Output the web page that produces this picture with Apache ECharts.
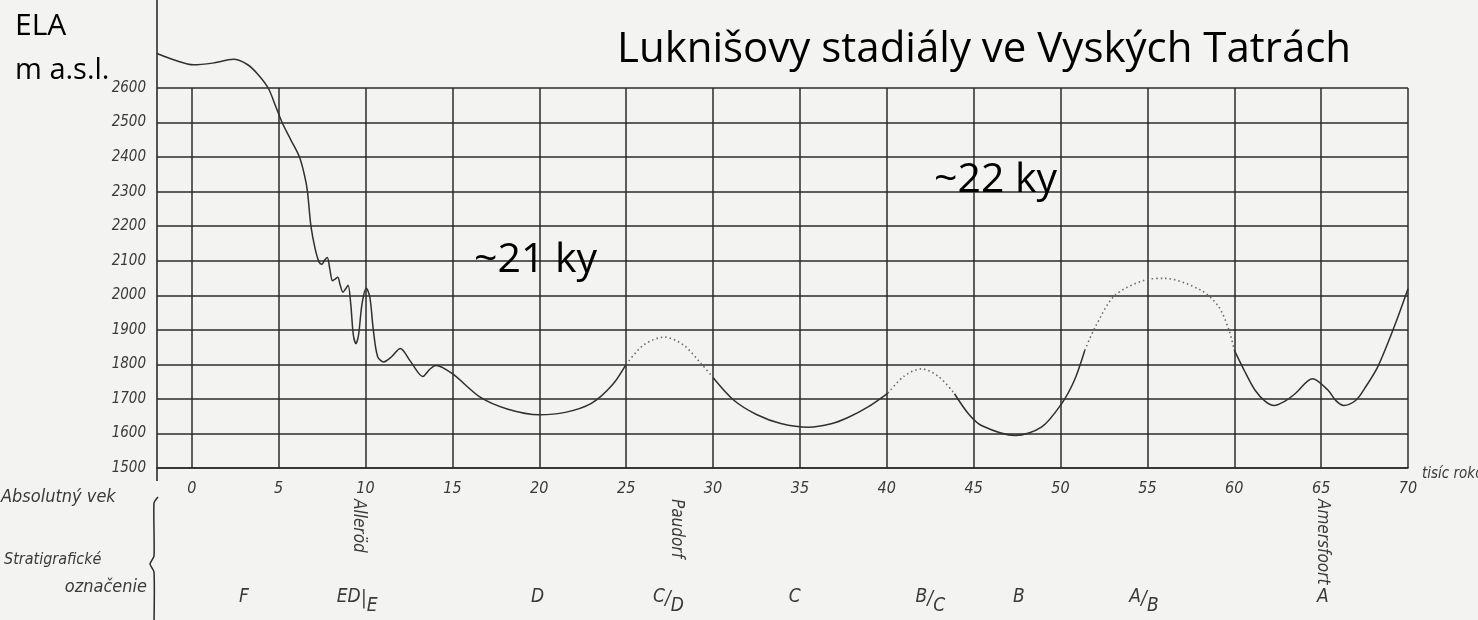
<!DOCTYPE html>
<html>
<head>
<meta charset="utf-8">
<script src="https://cdn.jsdelivr.net/npm/echarts@6/dist/echarts.min.js"></script>
<style>
  html, body { margin: 0; padding: 0; background: #f3f3f1; }
  #chart { width: 1478px; height: 620px; }
</style>
</head>
<body>
<div id="chart"></div>
<script>
// Absolute age axis (thousand years) and ELA axis (m a.s.l.)
const ageTicks = [0, 5, 10, 15, 20, 25, 30, 35, 40, 45, 50, 55, 60, 65, 70];
const elaTicks = [1500, 1600, 1700, 1800, 1900, 2000, 2100, 2200, 2300, 2400, 2500, 2600];

// ELA curve: [age, ELA]; solid parts are documented stadials, dotted parts are inferred
const curveF_D = [
  [-2, 2700], [-1, 2681], [0.1, 2667], [1.2, 2672], [2.4, 2683], [3.2, 2668], [3.8, 2640],
  [4.4, 2600], [4.8, 2551], [5.2, 2500], [5.7, 2450], [6.2, 2400], [6.5, 2345], [6.66, 2300],
  [6.86, 2200], [7.1, 2135], [7.33, 2096], [7.5, 2090],
  [7.65, 2102], [7.8, 2109], [7.95, 2075], [8.1, 2042], [8.25, 2047], [8.4, 2052], [8.55, 2028],
  [8.7, 2009], [8.85, 2018], [9.0, 2029], [9.15, 1975], [9.3, 1885], [9.45, 1860], [9.6, 1885],
  [9.8, 1975], [10.05, 2020], [10.25, 1995], [10.45, 1900], [10.7, 1822], [11.05, 1807],
  [11.5, 1822], [12.0, 1846], [12.6, 1808], [13.3, 1765], [13.7, 1786], [14.05, 1797],
  [15.0, 1773], [16.6, 1705], [18.2, 1670], [20.0, 1654], [21.5, 1661], [23.0, 1687],
  [24.2, 1740], [25.0, 1800]
];
const curveC_D = [[25.0, 1800], [26.0, 1856], [27.2, 1879], [28.3, 1856], [29.3, 1803], [30.0, 1762]];
const curveC = [
  [30.0, 1762], [31.2, 1696], [32.5, 1655], [33.9, 1629], [35.5, 1618], [36.8, 1628],
  [37.8, 1647], [38.9, 1676], [40.07, 1717]
];
const curveB_C = [[40.07, 1717], [41.0, 1766], [42.0, 1787], [43.0, 1764], [43.9, 1715]];
const curveB = [
  [43.9, 1715], [44.7, 1657], [45.45, 1623], [47.4, 1594], [48.9, 1618], [50.06, 1686],
  [50.8, 1754], [51.4, 1841]
];
const curveA_B = [
  [51.4, 1841], [52.0, 1908], [53.1, 1998], [54.85, 2044], [56.0, 2049], [58.1, 2014],
  [59.1, 1967], [59.7, 1899], [60.0, 1841]
];
const curveA = [
  [60.0, 1841], [60.6, 1780], [61.2, 1725], [61.8, 1692], [62.3, 1681], [62.9, 1693],
  [63.5, 1715], [64.5, 1758], [65.4, 1725], [65.85, 1695], [66.3, 1681], [67.0, 1696],
  [67.5, 1730], [68.25, 1792], [69.2, 1908], [70.0, 2019]
];

// Stratigraphic designations along the age axis
const stratAge = [3.0, 9.9, 19.9, 27.4, 34.7, 42.5, 47.6, 54.8, 65.1];
const stratTop = ['F', 'ED', 'D', 'C', 'C', 'B', 'B', 'A', 'A'];
const stratSep = ['', '|', '', '/', '', '/', '', '/', ''];
const stratSub = ['', 'E', '', 'D', '', 'C', '', 'B', ''];

// Named interstadials
const eventAge = [9.6, 27.9, 65.1];
const eventName = ['Alleröd', 'Paudorf', 'Amersfoort'];

const HAND = "'DejaVu Sans Condensed', 'DejaVu Sans', sans-serif";
const SANS = "'Open Sans', Lato, sans-serif";
const INK = '#2b2b2b';

const chart = echarts.init(document.getElementById('chart'), null, { renderer: 'canvas' });

function segment(data, dotted) {
  return {
    type: 'line',
    data: data,
    smooth: 0.3,
    showSymbol: false,
    clip: false,
    silent: true,
    lineStyle: dotted
      ? { color: '#6a6a6a', width: 1.6, type: [1.5, 3] }
      : { color: '#303030', width: 1.5 }
  };
}

chart.setOption({
  backgroundColor: '#f3f3f1',
  animation: false,
  grid: { left: 157, right: 70, top: 88, bottom: 152, outerBoundsMode: 'none' },
  xAxis: {
    type: 'value', min: -2, max: 70,
    axisLine: { show: true, lineStyle: { color: INK, width: 1.6 } },
    axisTick: { show: false, customValues: ageTicks },
    axisLabel: {
      customValues: ageTicks, margin: 13,
      fontFamily: HAND, fontStyle: 'italic', fontSize: 16, color: '#3a3a3a'
    },
    splitLine: { show: true, lineStyle: { color: INK, width: 1.5 } }
  },
  yAxis: {
    type: 'value', min: elaTicks[0], max: elaTicks[elaTicks.length - 1], interval: 100,
    axisLine: { show: false },
    axisTick: { show: false },
    axisLabel: {
      margin: 11, padding: [0, 0, 10, 0],
      formatter: v => String(v),
      fontFamily: HAND, fontStyle: 'italic', fontSize: 15, color: '#3a3a3a'
    },
    splitLine: { show: true, lineStyle: { color: INK, width: 1.5 } }
  },
  series: [
    segment(curveF_D, false),
    segment(curveC_D, true),
    segment(curveC, false),
    segment(curveB_C, true),
    segment(curveB, false),
    segment(curveA_B, true),
    segment(curveA, false)
  ]
});

function px(x, y) { return chart.convertToPixel({ gridIndex: 0 }, [x, y]); }

function buildAnnotations() {
  const left = px(-2, 1500)[0];
  const base = px(0, 1500)[1];
  const els = [];

  // left frame line running the full height, and the brace beside the stratigraphy
  els.push({ type: 'line', silent: true,
    shape: { x1: left, y1: 0, x2: left, y2: base + 13 },
    style: { stroke: INK, lineWidth: 1.6 } });
  els.push({ type: 'polyline', silent: true,
    shape: { points: [[left + 1, 497], [left - 3, 503], [left - 3, 556], [left - 7, 564],
                      [left - 3, 572], [left - 3, 625]], smooth: 0.2 },
    style: { fill: null, stroke: INK, lineWidth: 1.5 } });

  const hand = (text, x, y, extra) => ({
    type: 'text', silent: true, x: x, y: y,
    style: Object.assign({ text: text, fontFamily: HAND, fontStyle: 'italic', fontSize: 16,
      fill: '#3a3a3a', align: 'left', verticalAlign: 'middle' }, extra || {})
  });

  els.push(hand('Absolutný vek', 1, 497, { fontSize: 18 }));
  els.push(hand('Stratigrafické', 4, 560));
  els.push(hand('označenie', 147, 587, { align: 'right', fontSize: 18 }));
  els.push(hand('tisíc rokov', px(70, 1500)[0] + 14, 474, { fontSize: 15 }));

  // stratigraphic designations, fractions drawn as top / separator / lowered part
  stratAge.forEach((age, i) => {
    const cx = px(age, 1500)[0];
    const cy = 597;
    if (!stratSub[i]) {
      els.push(hand(stratTop[i], cx, cy, { align: 'center', fontSize: 19 }));
    } else {
      els.push(hand(stratTop[i], cx - 3, cy, { align: 'right', fontSize: 19 }));
      els.push(hand(stratSep[i], cx, cy + 2, { align: 'center', fontSize: 19 }));
      els.push(hand(stratSub[i], cx + 3, cy + 9, { align: 'left', fontSize: 19 }));
    }
  });

  // interstadial names, written downwards under the age labels
  eventAge.forEach((age, i) => {
    const cx = px(age, 1500)[0];
    els.push({
      type: 'text', silent: true, x: cx, y: 499, rotation: -Math.PI / 2,
      style: { text: eventName[i], fontFamily: HAND, fontStyle: 'italic', fontSize: 17,
        fill: '#3a3a3a', align: 'left', verticalAlign: 'middle' }
    });
  });

  const sans = (text, x, y, size) => ({
    type: 'text', silent: true, x: x, y: y,
    style: { text: text, fontFamily: SANS, fontSize: size, fill: '#000',
      align: 'left', verticalAlign: 'middle' }
  });
  els.push(sans('ELA', 15, 26, 30));
  els.push(sans('m a.s.l.', 15, 71, 29));
  els.push(sans('Luknišovy stadiály ve Vyských Tatrách', 617, 50, 42));
  els.push(sans('~21 ky', 474, 260, 41));
  els.push(sans('~22 ky', 934, 180, 41));

  chart.setOption({ graphic: { elements: els } });
}

buildAnnotations();
</script>
</body>
</html>
